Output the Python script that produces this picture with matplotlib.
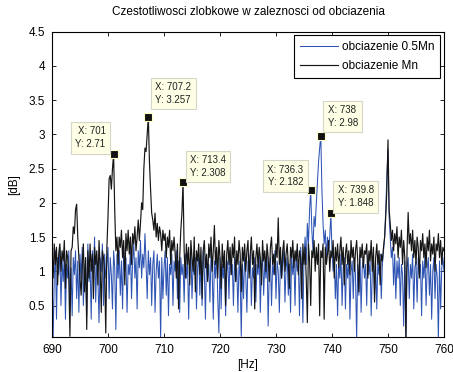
"""Slot harmonic frequencies for two load levels (MATLAB-style figure)."""

import numpy as np
import matplotlib
matplotlib.use("Agg")
import matplotlib.pyplot as plt

plt.rcParams["font.family"] = ["Liberation Sans", "DejaVu Sans"]

# Frequency grid (Hz), 0.2 Hz step.
freq = np.round(np.arange(690.0, 760.01, 0.2), 1)

# Spectrum at 0.5 Mn load, one row = 2 Hz.
y_half = [
    1.1, 0.0, 0.9, 1.3, 0.3, 1.2, 0.95, 1.35, 0.5, 1.15,
    0.85, 1.25, 0.3, 1.1, 0.9, 1.3, 0.45, 1.05, 0.35, 1.2,
    0.95, 1.3, 0.6, 1.15, 0.4, 1.25, 0.9, 1.35, 0.5, 1.0,
    1.2, 0.35, 1.4, 0.85, 1.1, 0.3, 1.3, 0.95, 1.5, 0.55,
    1.15, 0.9, 0.25, 1.2, 1.0, 1.4, 0.5, 1.25, 0.9, 1.1,
    1.35, 0.6, 1.2, 0.95, 0.45, 1.3, 1.05, 0.15, 1.25, 0.9,
    1.3, 0.65, 1.15, 0.45, 1.35, 1.0, 1.2, 0.4, 1.1, 0.95,
    1.3, 0.6, 1.15, 1.4, 0.9, 1.2, 0.45, 1.3, 1.05, 1.45,
    0.9, 1.25, 1.05, 1.55, 1.1, 0.6, 1.3, 0.95, 1.2, 0.5,
    1.1, 1.3, 0.4, 1.0, 1.25, 0.9, 1.15, 0.0, 1.2, 0.6,
    1.05, 1.3, 0.65, 1.2, 0.35, 1.1, 0.95, 1.25, 0.5, 1.15,
    1.0, 1.3, 0.6, 1.15, 0.4, 1.2, 0.95, 1.1, 0.55, 1.25,
    0.9, 1.15, 0.3, 1.05, 1.3, 0.6, 1.1, 0.95, 1.2, 0.45,
    1.05, 1.25, 0.65, 1.15, 0.5, 1.3, 1.0, 0.3, 1.2, 0.9,
    1.1, 0.55, 1.25, 1.0, 0.3, 1.15, 0.9, 1.3, 0.6, 0.1,
    1.2, 0.45, 1.1, 0.9, 1.25, 0.35, 1.0, 1.15, 0.6, 1.3,
    0.95, 1.1, 0.5, 1.2, 0.85, 1.05, 0.4, 1.15, 0.9, 0.05,
    1.1, 0.6, 1.2, 0.95, 0.4, 1.15, 1.0, 1.25, 0.5, 1.05,
    0.9, 1.2, 0.55, 1.1, 0.95, 1.3, 0.4, 1.05, 1.2, 0.65,
    1.15, 0.9, 1.25, 0.2, 1.0, 1.2, 0.5, 1.1, 0.95, 1.3,
    0.6, 1.15, 1.0, 0.4, 1.2, 0.9, 1.1, 1.3, 0.55, 1.05,
    1.2, 0.65, 1.1, 0.4, 1.25, 0.95, 1.15, 0.5, 1.3, 1.0,
    1.1, 0.35, 1.35, 1.0, 0.25, 1.2, 1.5, 1.1, 1.7, 1.4,
    1.9, 2.182, 1.6, 1.3, 1.8, 1.65, 2.0, 2.3, 2.6, 2.8,
    2.98, 2.2, 1.7, 1.4, 1.6, 1.2, 1.5, 1.3, 1.5, 1.848,
    1.3, 1.0, 1.2, 0.6, 1.1, 0.35, 1.15, 0.9, 1.25, 0.5,
    1.05, 1.2, 0.45, 1.1, 0.9, 1.25, 0.3, 1.0, 1.15, 0.6,
    1.2, 0.95, 0.0, 1.1, 0.65, 1.25, 0.4, 1.05, 1.2, 0.9,
    1.1, 0.5, 1.25, 0.95, 1.15, 0.35, 1.0, 1.2, 0.65, 1.1,
    0.45, 1.15, 0.95, 1.25, 0.6, 1.1, 1.3, 1.5, 1.9, 2.4,
    2.78, 1.8, 1.5, 1.2, 1.35, 0.8, 1.25, 0.6, 1.15, 0.9,
    1.2, 0.5, 1.1, 0.95, 0.2, 1.15, 0.0, 1.05, 1.2, 0.6,
    1.1, 0.9, 1.25, 0.45, 1.05, 1.15, 0.55, 1.2, 0.95, 1.1,
    0.35, 1.15, 0.9, 1.25, 0.5, 1.05, 1.2, 0.65, 1.1, 0.3,
    1.0, 1.2, 0.6, 1.1, 0.9, 0.0, 1.15, 0.45, 1.05, 1.2,
    1.0,
]

# Spectrum at nominal load Mn.
y_full = [
    1.3, 0.9, 1.4, 1.1, 1.35, 0.8, 1.25, 1.4, 1.0, 1.3,
    1.15, 1.45, 0.75, 1.3, 1.2, 0.9, 0.05, 1.3, 1.35, 1.65,
    1.55, 1.9, 1.98, 1.5, 1.2, 0.9, 0.65, 1.1, 1.4, 0.7,
    1.2, 0.15, 1.3, 0.9, 1.4, 1.0, 1.25, 0.6, 1.35, 1.1,
    1.3, 0.8, 1.45, 1.05, 0.4, 1.3, 1.2, 0.95, 0.1, 1.35,
    1.8, 2.35, 2.4, 2.2, 2.5, 2.71, 1.9, 1.3, 1.5, 1.1,
    1.5, 1.35, 1.6, 1.2, 1.45, 0.8, 1.55, 1.3, 1.6, 1.25,
    1.5, 1.1, 1.55, 1.4, 1.65, 1.3, 1.5, 1.75, 1.45, 1.7,
    2.0, 1.9, 2.5, 2.8, 2.75, 3.0, 3.257, 2.6, 2.2, 1.85,
    1.75, 1.6, 1.85, 1.5, 1.7, 1.45, 1.65, 1.55, 1.3, 1.6,
    1.45, 1.55, 1.2, 1.5, 1.35, 1.6, 1.1, 1.45, 1.3, 1.5,
    1.25, 0.9, 1.4, 0.45, 1.2, 1.6, 1.85, 2.308, 1.3, 0.9,
    1.4, 1.1, 1.35, 0.8, 1.45, 1.2, 1.0, 1.5, 0.7, 1.3,
    1.15, 1.4, 0.95, 1.35, 0.6, 1.3, 1.45, 1.05, 1.25, 0.85,
    1.4, 1.2, 1.5, 1.0, 1.3, 1.67, 1.1, 1.35, 0.9, 1.45,
    1.2, 0.75, 1.4, 1.05, 1.3, 0.5, 1.25, 1.45, 1.1, 1.35,
    0.95, 1.4, 1.2, 1.5, 0.85, 1.3, 1.1, 1.45, 1.25, 0.7,
    1.35, 1.15, 1.4, 1.0, 1.3, 1.45, 0.9, 1.25, 1.5, 1.1,
    1.3, 0.45, 1.2, 1.4, 1.05, 1.35, 1.2, 0.8, 1.45, 1.15,
    1.3, 1.0, 1.4, 1.2, 0.85, 1.35, 1.5, 1.1, 1.25, 0.95,
    1.4, 1.2, 1.78, 1.1, 1.35, 0.9, 1.3, 1.45, 1.0, 1.25,
    1.4, 1.1, 0.75, 1.35, 1.2, 1.45, 1.05, 1.3, 1.15, 1.4,
    0.95, 1.3, 1.2, 0.6, 1.4, 1.1, 1.35, 0.9, 0.25, 1.4,
    1.15, 0.5, 1.3, 1.2, 1.45, 1.0, 1.35, 1.1, 1.4, 0.35,
    1.3, 1.2, 1.4, 0.3, 1.35, 1.1, 1.25, 1.45, 1.0, 1.3,
    1.2, 1.45, 0.9, 1.35, 1.15, 1.4, 1.05, 1.3, 1.5, 1.1,
    1.35, 0.8, 1.25, 1.4, 1.1, 1.3, 0.95, 1.45, 1.2, 1.35,
    1.0, 1.3, 1.45, 1.15, 0.7, 1.35, 1.2, 1.4, 1.05, 1.3,
    1.25, 1.4, 0.9, 1.3, 1.15, 1.45, 1.0, 1.35, 0.55, 1.2,
    1.4, 1.1, 1.3, 0.8, 1.25, 1.15, 1.35, 1.5, 1.8, 2.2,
    2.92, 1.9, 1.7, 1.45, 1.6, 1.3, 1.55, 1.4, 1.65, 1.2,
    1.5, 1.35, 1.6, 1.1, 1.45, 1.2, 0.0, 1.3, 1.86, 1.4,
    1.55, 1.3, 1.6, 1.2, 1.45, 1.1, 1.5, 1.35, 0.9, 1.45,
    1.3, 1.55, 1.2, 1.4, 1.05, 1.5, 1.3, 1.6, 1.15, 1.4,
    1.25, 1.5, 1.0, 1.4, 1.3, 1.55, 1.2, 1.45, 1.1, 1.35,
    1.3,
]

# Data tips shown on the figure.
tip_x = [701, 707.2, 713.4, 736.3, 738, 739.8]
tip_y = [2.71, 3.257, 2.308, 2.182, 2.98, 1.848]
tip_side = ["left", "right", "right", "left", "right", "right"]
tip_lift = [5, 12, 4, 3, 8, 5]

fig = plt.figure(figsize=(4.53, 3.72), dpi=100)
ax = fig.add_axes([0.1148, 0.0941, 0.8653, 0.8207])

ax.plot(freq, y_half, color="#2f55b4", lw=0.75, label="obciazenie 0.5Mn")
ax.plot(freq, y_full, color="#151515", lw=0.85, label="obciazenie Mn")

for x, y, side, lift in zip(tip_x, tip_y, tip_side, tip_lift):
    ax.plot(x, y, "s", ms=5.5, mfc="#111111", mec="#ffffc8", mew=0.8, zorder=5)
    dx = -8 if side == "left" else 7
    ax.annotate(f"X: {x:g}\nY: {y:g}", (x, y), xytext=(dx, lift),
                textcoords="offset pixels",
                ha="right" if side == "left" else "left", va="bottom",
                fontsize=7, color="#222222", linespacing=1.35,
                bbox=dict(boxstyle="square,pad=0.45", fc="#ffffe6",
                          ec="#d6d6c8", lw=0.8), zorder=6)

ax.set_xlim(690, 760)
ax.set_ylim(0.04, 4.5)
ax.set_xticks(np.arange(690, 761, 10))
ax.set_yticks([0.5, 1, 1.5, 2, 2.5, 3, 3.5, 4, 4.5])
ax.set_yticklabels(["0.5", "1", "1.5", "2", "2.5", "3", "3.5", "4", "4.5"])
ax.tick_params(direction="in", top=True, right=True, labelsize=8.5, length=3,
               width=0.6, pad=5)
for s in ax.spines.values():
    s.set_linewidth(0.8)

ax.set_title("Czestotliwosci zlobkowe w zaleznosci od obciazenia",
             fontsize=8.5, pad=12)
ax.set_xlabel("[Hz]", fontsize=8.5, labelpad=2.5)
ax.set_ylabel("[dB]", fontsize=8.5, labelpad=6)

leg = ax.legend(loc="upper right", fontsize=8.5, fancybox=False,
                framealpha=1, edgecolor="black", handlelength=3.3,
                borderaxespad=0.3, handletextpad=0.3, borderpad=0.5,
                labelspacing=0.6)
leg.get_frame().set_linewidth(0.8)

fig.savefig("out.png", dpi=100)
